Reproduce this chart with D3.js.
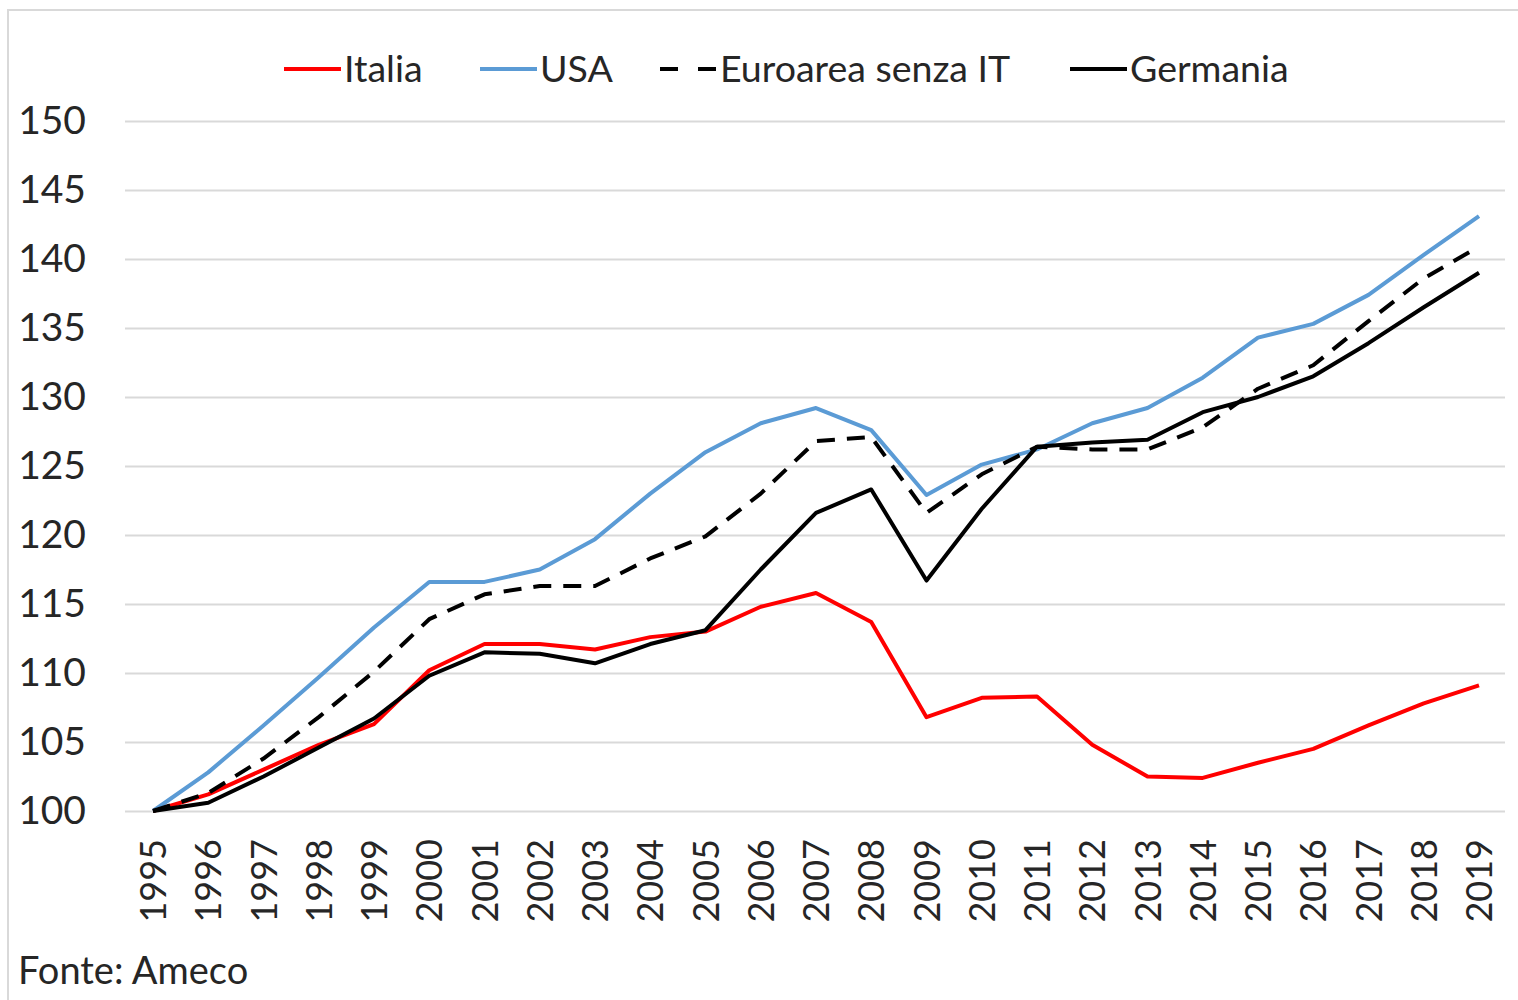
<!DOCTYPE html>
<html>
<head>
<meta charset="utf-8">
<script src="https://cdn.jsdelivr.net/npm/d3@7"></script>
<style>
  body { margin: 0; background: #ffffff; }
  svg { display: block; font-family: Lato, 'Open Sans', sans-serif; }
</style>
</head>
<body>
<svg id="chart"></svg>
<script>

const width = 1518;
const height = 1000;

const years = d3.range(1995, 2020);
const yTicks = [100, 105, 110, 115, 120, 125, 130, 135, 140, 145, 150];

const italia = [100, 101.2, 103.0, 104.8, 106.3, 110.2, 112.1, 112.1, 111.7, 112.6,
  113.0, 114.8, 115.8, 113.7, 106.8, 108.2, 108.3, 104.8, 102.5, 102.4,
  103.5, 104.5, 106.2, 107.8, 109.1];
const usa = [100, 102.8, 106.2, 109.7, 113.3, 116.6, 116.6, 117.5, 119.7, 123.0,
  126.0, 128.1, 129.2, 127.6, 122.9, 125.1, 126.2, 128.1, 129.2, 131.4,
  134.3, 135.3, 137.4, 140.3, 143.1];
const euroarea = [100, 101.3, 103.8, 106.8, 110.1, 113.9, 115.7, 116.3, 116.3, 118.3,
  119.9, 123.0, 126.8, 127.1, 121.6, 124.4, 126.4, 126.2, 126.2, 127.8,
  130.6, 132.3, 135.5, 138.6, 140.9];
const germania = [100, 100.6, 102.5, 104.6, 106.7, 109.8, 111.5, 111.4, 110.7, 112.1,
  113.1, 117.5, 121.6, 123.3, 116.7, 121.9, 126.4, 126.7, 126.9, 128.9,
  130.0, 131.5, 133.9, 136.5, 139.0];

const series = [
  {name: 'Italia', values: italia, color: '#ff0000', dash: null},
  {name: 'USA', values: usa, color: '#5b9bd5', dash: null},
  {name: 'Euroarea senza IT', values: euroarea, color: '#000000', dash: '18,12'},
  {name: 'Germania', values: germania, color: '#000000', dash: null}
];

// plot area
const plot = {left: 125, right: 1505, top: 121, bottom: 811};

const x = d3.scalePoint()
  .domain(years)
  .range([153, 1479]);
const y = d3.scaleLinear()
  .domain([100, 150])
  .range([plot.bottom, plot.top]);

const svg = d3.select('#chart')
  .attr('width', width)
  .attr('height', height);

// outer frame (cut by the picture edge)
svg.append('rect')
  .attr('x', 8).attr('y', 10)
  .attr('width', 1530).attr('height', 1010)
  .attr('fill', 'none')
  .attr('stroke', '#d9d9d9')
  .attr('stroke-width', 2);

// gridlines
svg.append('g')
    .attr('class', 'grid')
    .attr('transform', `translate(${plot.left},0)`)
    .call(d3.axisLeft(y).tickValues(yTicks).tickSize(-(plot.right - plot.left)).tickFormat(''))
    .call(g => g.select('.domain').remove())
    .call(g => g.selectAll('line').attr('stroke', '#d9d9d9').attr('stroke-width', 2));

// y axis labels
svg.append('g')
    .attr('class', 'y-axis')
    .attr('transform', 'translate(86,0)')
    .call(d3.axisLeft(y).tickValues(yTicks).tickSize(0).tickPadding(0))
    .call(g => g.select('.domain').remove())
    .call(g => g.selectAll('text')
      .attr('font-family', 'Lato, sans-serif')
      .attr('font-size', 39)
      .attr('fill', '#262626'));

// x axis labels, rotated
svg.append('g')
    .attr('class', 'x-axis')
    .attr('transform', `translate(0,${plot.bottom})`)
    .call(d3.axisBottom(x).tickSize(0).tickFormat(d3.format('d')))
    .call(g => g.select('.domain').remove())
    .call(g => g.selectAll('text')
      .attr('font-family', 'Lato, sans-serif')
      .attr('font-size', 36)
      .attr('fill', '#262626')
      .attr('text-anchor', 'end')
      .attr('transform', 'rotate(-90)')
      .attr('x', -28)
      .attr('y', 0)
      .attr('dy', '0.35em'));

// lines
const line = d3.line()
  .x((d, i) => x(years[i]))
  .y(d => y(d));

svg.append('g')
    .attr('class', 'lines')
  .selectAll('path')
  .data(series)
  .enter()
  .append('path')
    .attr('d', d => line(d.values))
    .attr('fill', 'none')
    .attr('stroke', d => d.color)
    .attr('stroke-width', 4)
    .attr('stroke-linejoin', 'round')
    .attr('stroke-dasharray', d => d.dash);

// legend
const legendX = [284, 480, 660, 1070];
const legend = svg.append('g')
    .attr('class', 'legend')
  .selectAll('g')
  .data(series)
  .enter()
  .append('g')
    .attr('transform', (d, i) => `translate(${legendX[i]},69)`);
legend.append('line')
    .attr('x1', 0).attr('x2', 57)
    .attr('y1', 0).attr('y2', 0)
    .attr('stroke', d => d.color)
    .attr('stroke-width', 4)
    .attr('stroke-dasharray', d => d.dash ? '18,20' : null);
legend.append('text')
    .attr('x', 60)
    .attr('y', 0)
    .attr('dy', '0.35em')
    .attr('font-size', 37.5)
    .attr('fill', '#262626')
    .text(d => d.name);

// source note
svg.append('text')
    .attr('x', 18)
    .attr('y', 984)
    .attr('font-size', 38)
    .attr('fill', '#262626')
    .text('Fonte: Ameco');

</script>
</body>
</html>
